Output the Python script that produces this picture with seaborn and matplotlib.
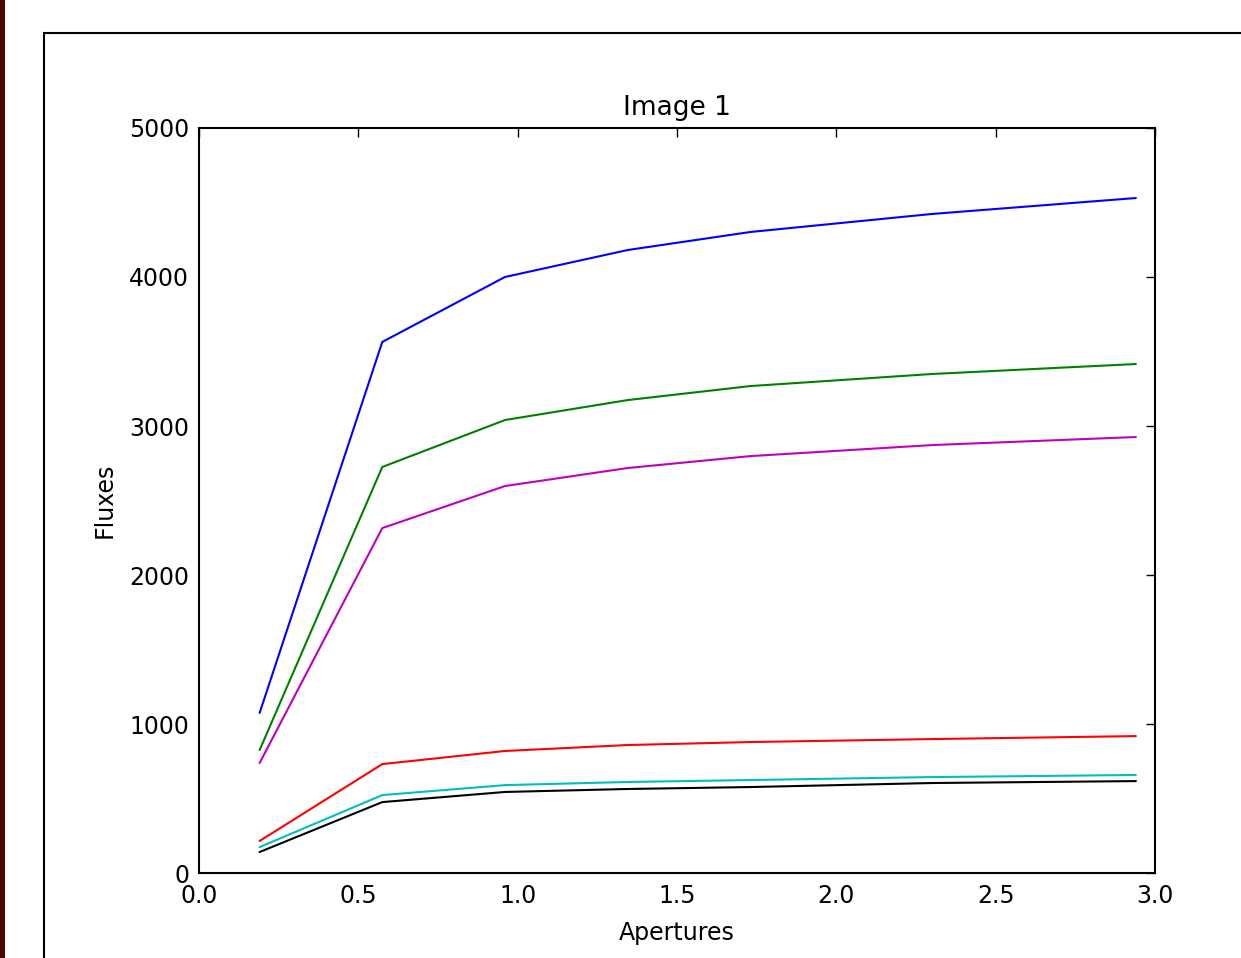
import pandas as pd
import seaborn as sns
import matplotlib.pyplot as plt
from matplotlib.patches import Rectangle

# Data
apertures = [0.19, 0.575, 0.96, 1.345, 1.73, 2.3, 2.94]
flux_blue = [1074, 3564, 4000, 4181, 4302, 4423, 4530]
flux_green = [825, 2725, 3040, 3174, 3268, 3349, 3416]
flux_magenta = [738, 2315, 2597, 2718, 2798, 2872, 2926]
flux_red = [215, 731, 819, 859, 879, 899, 919]
flux_cyan = [174, 523, 590, 611, 624, 644, 658]
flux_black = [141, 476, 544, 564, 577, 604, 617]

series = {"b": flux_blue, "g": flux_green, "m": flux_magenta,
          "r": flux_red, "c": flux_cyan, "k": flux_black}
colors = {"b": "#0000ff", "g": "#008000", "m": "#bf00bf",
          "r": "#ff0000", "c": "#00bfbf", "k": "#000000"}

rows = []
for name, vals in series.items():
    for a, f in zip(apertures, vals):
        rows.append({"Apertures": a, "Fluxes": f, "star": name})
data = pd.DataFrame(rows)

sns.set_style("white")
plt.rcParams["font.family"] = ["DejaVu Sans"]
plt.rcParams["text.color"] = "black"
plt.rcParams["axes.labelcolor"] = "black"
plt.rcParams["xtick.color"] = "black"
plt.rcParams["ytick.color"] = "black"

fig = plt.figure(figsize=(12.41, 9.58), dpi=100)
ax = fig.add_axes([0.1604, 0.0887, 0.7703, 0.7777])

sns.lineplot(data=data, x="Apertures", y="Fluxes", hue="star",
             palette=colors, legend=False, linewidth=1.5, ax=ax,
             estimator=None, sort=False)

ax.set_xlim(0, 3.0)
ax.set_ylim(0, 5000)
ax.set_xticks([0.0, 0.5, 1.0, 1.5, 2.0, 2.5, 3.0])
ax.set_yticks([0, 1000, 2000, 3000, 4000, 5000])
ax.tick_params(direction="in", length=6.5, width=1, top=True, right=True,
               labelsize=17)
ax.tick_params(axis="x", pad=8)
ax.tick_params(axis="y", pad=7)
for s in ax.spines.values():
    s.set_color("black")
    s.set_linewidth(1.5)
    s.set_visible(True)
ax.set_title("Image 1", fontsize=19, pad=9)
ax.set_xlabel("Apertures", fontsize=17, labelpad=9)
ax.set_ylabel("Fluxes", fontsize=17, labelpad=9)

# screenshot frame: dark strip on the left and window border
fig.add_artist(Rectangle((0, 0), 5 / 1241, 1, transform=fig.transFigure,
                         facecolor="#4a0404", edgecolor="none"))
fig.add_artist(Rectangle((44 / 1241, -0.1), 1.2, 1 - 33 / 958 + 0.1,
                         transform=fig.transFigure, facecolor="none",
                         edgecolor="black", linewidth=1.5))

fig.savefig("out.png", dpi=100)
